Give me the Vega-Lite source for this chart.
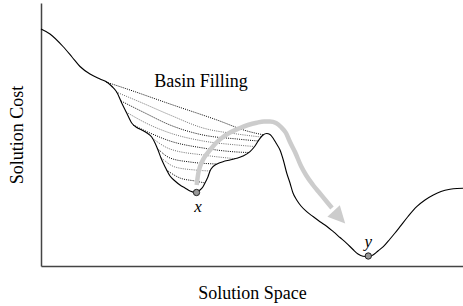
{
  "$schema": "https://vega.github.io/schema/vega-lite/v6.json",
  "autosize": {"type": "none"},
  "padding": {"left": 41, "top": 3, "right": 0, "bottom": 40},
  "width": 422,
  "height": 263,
  "background": "white",
  "config": {
    "view": {"stroke": null},
    "axis": {"labels": false, "ticks": false, "grid": false, "domainColor": "#444", "domainWidth": 1.5, "titleFont": "'Liberation Serif', 'Times New Roman', serif", "titleFontSize": 18, "titleFontWeight": "normal", "titleColor": "#000"},
    "axisX": {"titlePadding": 18},
    "axisY": {"titlePadding": 15}
  },
  "datasets": {
    "curve": [
      {"x": 0, "y": 237}, {"x": 9, "y": 232}, {"x": 22, "y": 219.5}, {"x": 31, "y": 209}, {"x": 39, "y": 199.5},
      {"x": 49, "y": 192}, {"x": 59, "y": 187}, {"x": 65.7, "y": 184}, {"x": 71, "y": 179.5}, {"x": 75.7, "y": 174},
      {"x": 80.7, "y": 163}, {"x": 85.7, "y": 153}, {"x": 90.7, "y": 143}, {"x": 95, "y": 139}, {"x": 100.7, "y": 136},
      {"x": 106, "y": 133}, {"x": 110.7, "y": 129}, {"x": 114, "y": 123}, {"x": 117, "y": 116}, {"x": 120, "y": 108},
      {"x": 124, "y": 99.3}, {"x": 129, "y": 90}, {"x": 134, "y": 85}, {"x": 139, "y": 81}, {"x": 144, "y": 78},
      {"x": 149, "y": 75}, {"x": 155, "y": 73.5}, {"x": 159, "y": 76}, {"x": 162, "y": 79.3}, {"x": 165, "y": 85},
      {"x": 167, "y": 89.3}, {"x": 169, "y": 95}, {"x": 172, "y": 99.3}, {"x": 177, "y": 102.5}, {"x": 182, "y": 104.3},
      {"x": 189, "y": 106}, {"x": 195.7, "y": 107.7}, {"x": 202, "y": 110}, {"x": 209, "y": 114.3}, {"x": 214, "y": 120},
      {"x": 219, "y": 127.7}, {"x": 222, "y": 131}, {"x": 225.7, "y": 132.5}, {"x": 229, "y": 131.5}, {"x": 232, "y": 128},
      {"x": 235, "y": 123}, {"x": 239, "y": 116}, {"x": 242.3, "y": 106}, {"x": 245.7, "y": 93}, {"x": 249, "y": 83},
      {"x": 252, "y": 73}, {"x": 255.7, "y": 66}, {"x": 260, "y": 60}, {"x": 265.7, "y": 54.3}, {"x": 272, "y": 49.5},
      {"x": 279, "y": 44.3}, {"x": 286, "y": 39.5}, {"x": 292.3, "y": 34.3}, {"x": 299, "y": 28.5}, {"x": 305.7, "y": 22.7},
      {"x": 312, "y": 16.5}, {"x": 317, "y": 12}, {"x": 322, "y": 9.7}, {"x": 327, "y": 9.3}, {"x": 332, "y": 11},
      {"x": 337, "y": 15}, {"x": 342.3, "y": 19.3}, {"x": 349, "y": 27}, {"x": 354, "y": 33}, {"x": 359, "y": 39.3},
      {"x": 367, "y": 49.5}, {"x": 375.7, "y": 59.3}, {"x": 384, "y": 66}, {"x": 392.3, "y": 71}, {"x": 400, "y": 74.5},
      {"x": 409, "y": 76.7}, {"x": 416, "y": 77.5}, {"x": 422, "y": 77.7}
    ],
    "basin": [
      {"line": 1, "x": 65, "y": 184}, {"line": 1, "x": 89, "y": 176}, {"line": 1, "x": 129, "y": 162}, {"line": 1, "x": 176, "y": 146}, {"line": 1, "x": 206, "y": 135}, {"line": 1, "x": 223, "y": 131},
      {"line": 2, "x": 75, "y": 174}, {"line": 2, "x": 99, "y": 164}, {"line": 2, "x": 129, "y": 151}, {"line": 2, "x": 162, "y": 138}, {"line": 2, "x": 196, "y": 132}, {"line": 2, "x": 220, "y": 129},
      {"line": 3, "x": 80, "y": 165}, {"line": 3, "x": 104, "y": 153}, {"line": 3, "x": 129, "y": 141}, {"line": 3, "x": 162, "y": 131}, {"line": 3, "x": 196, "y": 127}, {"line": 3, "x": 217, "y": 125},
      {"line": 4, "x": 85, "y": 154}, {"line": 4, "x": 109, "y": 141}, {"line": 4, "x": 129, "y": 133}, {"line": 4, "x": 162, "y": 125}, {"line": 4, "x": 196, "y": 121}, {"line": 4, "x": 213, "y": 119.5},
      {"line": 5, "x": 92, "y": 141}, {"line": 5, "x": 109, "y": 133}, {"line": 5, "x": 129, "y": 125}, {"line": 5, "x": 162, "y": 118}, {"line": 5, "x": 196, "y": 114}, {"line": 5, "x": 208, "y": 113.5},
      {"line": 6, "x": 111, "y": 128}, {"line": 6, "x": 129, "y": 117}, {"line": 6, "x": 162, "y": 111}, {"line": 6, "x": 194, "y": 107.3},
      {"line": 7, "x": 116, "y": 118}, {"line": 7, "x": 129, "y": 108}, {"line": 7, "x": 149, "y": 104}, {"line": 7, "x": 176, "y": 102},
      {"line": 8, "x": 120.5, "y": 108}, {"line": 8, "x": 134, "y": 99}, {"line": 8, "x": 154, "y": 96}, {"line": 8, "x": 169, "y": 95},
      {"line": 9, "x": 125.5, "y": 96}, {"line": 9, "x": 139, "y": 88}, {"line": 9, "x": 154, "y": 85}, {"line": 9, "x": 164, "y": 83}
    ],
    "arrow": [
      {"i": 0, "x": 155.7, "y": 81}, {"i": 1, "x": 157, "y": 91}, {"i": 2, "x": 159, "y": 99.3}, {"i": 3, "x": 163, "y": 108},
      {"i": 4, "x": 169, "y": 116}, {"i": 5, "x": 175, "y": 123}, {"i": 6, "x": 182.3, "y": 129.3}, {"i": 7, "x": 190, "y": 134},
      {"i": 8, "x": 199, "y": 138}, {"i": 9, "x": 207, "y": 141}, {"i": 10, "x": 215.7, "y": 143.3}, {"i": 11, "x": 223, "y": 144.5},
      {"i": 12, "x": 229, "y": 144.5}, {"i": 13, "x": 235, "y": 143}, {"i": 14, "x": 240, "y": 139}, {"i": 15, "x": 245, "y": 133},
      {"i": 16, "x": 249, "y": 124}, {"i": 17, "x": 254, "y": 114}, {"i": 18, "x": 260, "y": 100}, {"i": 19, "x": 265, "y": 91},
      {"i": 20, "x": 272, "y": 81}, {"i": 21, "x": 279, "y": 72.5}, {"i": 22, "x": 286, "y": 64}, {"i": 23, "x": 291, "y": 58}
    ],
    "head": [{"x": 298.4, "y": 48.8}],
    "points": [{"name": "x", "x": 155.5, "y": 73.5}, {"name": "y", "x": 327.3, "y": 10}],
    "labels": [{"text": "x", "x": 157, "y": 54.3}, {"text": "y", "x": 327.3, "y": 19.3}],
    "title": [{"text": "Basin Filling", "x": 159.9, "y": 179.3}]
  },
  "layer": [
    {
      "data": {"name": "basin"},
      "mark": {"type": "line", "strokeWidth": 1, "strokeDash": [1, 1.2], "interpolate": "monotone"},
      "encoding": {
        "x": {"field": "x", "type": "quantitative", "scale": {"domain": [0, 422], "nice": false, "zero": false}, "title": "Solution Space"},
        "y": {"field": "y", "type": "quantitative", "scale": {"domain": [0, 263], "nice": false, "zero": false}, "title": "Solution Cost"},
        "detail": {"field": "line", "type": "nominal"},
        "color": {"field": "line", "type": "nominal", "scale": {"domain": [1, 2, 3, 4, 5, 6, 7, 8, 9], "range": ["#000000", "#6e6e6e", "#000000", "#6e6e6e", "#000000", "#6e6e6e", "#000000", "#6e6e6e", "#000000"]}, "legend": null}
      }
    },
    {
      "data": {"name": "curve"},
      "mark": {"type": "line", "color": "#000", "strokeWidth": 1.1, "interpolate": "monotone"},
      "encoding": {
        "x": {"field": "x", "type": "quantitative", "scale": {"domain": [0, 422], "nice": false, "zero": false}, "title": "Solution Space"},
        "y": {"field": "y", "type": "quantitative", "scale": {"domain": [0, 263], "nice": false, "zero": false}, "title": "Solution Cost"}
      }
    },
    {
      "data": {"name": "arrow"},
      "mark": {"type": "line", "color": "#cccccc", "strokeWidth": 4.5, "strokeCap": "butt", "interpolate": "monotone"},
      "encoding": {
        "x": {"field": "x", "type": "quantitative", "scale": {"domain": [0, 422], "nice": false, "zero": false}, "title": "Solution Space"},
        "y": {"field": "y", "type": "quantitative", "scale": {"domain": [0, 263], "nice": false, "zero": false}, "title": "Solution Cost"},
        "order": {"field": "i", "type": "quantitative"}
      }
    },
    {
      "data": {"name": "head"},
      "mark": {"type": "point", "shape": "M-1,-1L1,0L-1,1Z", "size": 289, "angle": 47, "filled": true, "color": "#cccccc", "opacity": 1},
      "encoding": {
        "x": {"field": "x", "type": "quantitative", "scale": {"domain": [0, 422], "nice": false, "zero": false}, "title": "Solution Space"},
        "y": {"field": "y", "type": "quantitative", "scale": {"domain": [0, 263], "nice": false, "zero": false}, "title": "Solution Cost"}
      }
    },
    {
      "data": {"name": "points"},
      "mark": {"type": "point", "shape": "circle", "size": 40, "filled": false, "fill": "#999999", "fillOpacity": 1, "stroke": "#222", "strokeWidth": 1, "opacity": 1},
      "encoding": {
        "x": {"field": "x", "type": "quantitative", "scale": {"domain": [0, 422], "nice": false, "zero": false}, "title": "Solution Space"},
        "y": {"field": "y", "type": "quantitative", "scale": {"domain": [0, 263], "nice": false, "zero": false}, "title": "Solution Cost"}
      }
    },
    {
      "data": {"name": "labels"},
      "mark": {"type": "text", "font": "'Liberation Serif', 'Times New Roman', serif", "fontSize": 17, "fontStyle": "italic", "align": "center", "baseline": "alphabetic", "color": "#000"},
      "encoding": {
        "x": {"field": "x", "type": "quantitative", "scale": {"domain": [0, 422], "nice": false, "zero": false}, "title": "Solution Space"},
        "y": {"field": "y", "type": "quantitative", "scale": {"domain": [0, 263], "nice": false, "zero": false}, "title": "Solution Cost"},
        "text": {"field": "text", "type": "nominal"}
      }
    },
    {
      "data": {"name": "title"},
      "mark": {"type": "text", "font": "'Liberation Serif', 'Times New Roman', serif", "fontSize": 18, "align": "center", "baseline": "alphabetic", "color": "#000"},
      "encoding": {
        "x": {"field": "x", "type": "quantitative", "scale": {"domain": [0, 422], "nice": false, "zero": false}, "title": "Solution Space"},
        "y": {"field": "y", "type": "quantitative", "scale": {"domain": [0, 263], "nice": false, "zero": false}, "title": "Solution Cost"},
        "text": {"field": "text", "type": "nominal"}
      }
    }
  ]
}
